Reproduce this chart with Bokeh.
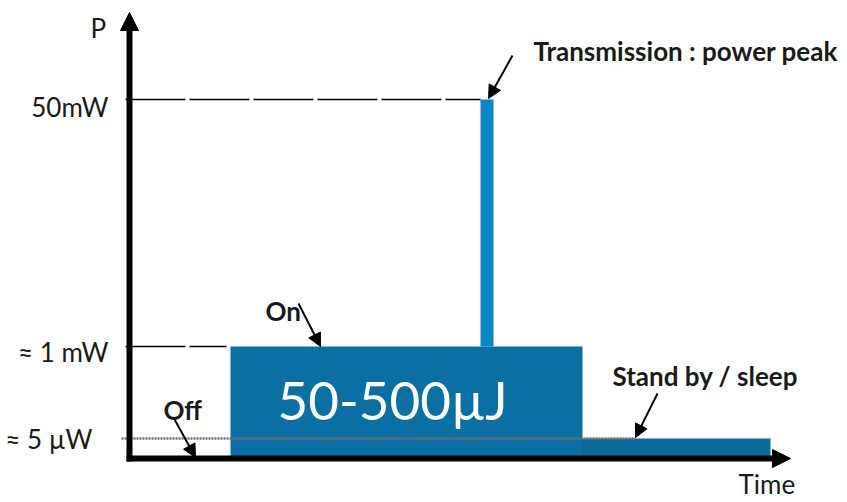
from bokeh.plotting import figure
from bokeh.models import ColumnDataSource, Range1d, Arrow, NormalHead
from bokeh.core.properties import value
from bokeh.embed import file_html
from bokeh.resources import INLINE

# ---- schematic data (time and power in arbitrary schematic units) ----
level_names = ["≈ 5 µW", "≈ 1 mW", "50mW"]
level_values = [20, 112, 359]          # schematic power levels
on_start, on_end = 101, 453            # "On" phase time span
peak_start, peak_end = 351, 364        # transmission peak time span
sleep_end = 641                        # stand-by phase end
time_axis_end = 661
power_axis_end = 446

block_energy = "50-500µJ"

annot_text = ["Transmission : power peak", "On", "Off", "Stand by / sleep"]
annot_tail_x = [383, 169, 44, 528]
annot_tail_y = [403, 155, 41, 65]
annot_tip_x = [359, 191, 66, 506]
annot_tip_y = [360, 112, 1, 21]
annot_lbl_x = [404, 136, 34, 483]
annot_lbl_y = [408, 148, 49, 83]

FONT = "Lato"

p = figure(width=845, height=500, output_backend="svg", toolbar_location=None,
           x_range=Range1d(-129, 716), y_range=Range1d(-42, 458),
           min_border=0, outline_line_color=None)
p.axis.visible = False
p.grid.visible = False

# Stand-by consumption bar
p.quad(left=[on_end - 1], right=[sleep_end], bottom=[0], top=[level_values[0]],
       fill_color="#0b6a9c", line_color=None)
# "On" block
p.quad(left=[on_start], right=[on_end], bottom=[0], top=[level_values[1]],
       fill_color="#0b6fa3", line_color=None)
# transmission peak
p.quad(left=[peak_start], right=[peak_end], bottom=[level_values[1]], top=[level_values[2]],
       fill_color="#0b86c6", line_color=None)

# reference lines
p.line([-4, peak_start], [level_values[2]] * 2, line_color="black", line_width=1.5, line_dash="60 4")
p.line([-4, on_start - 4], [level_values[1]] * 2, line_color="black", line_width=1.5, line_dash="60 4")
p.line([-8, annot_tip_x[3]], [level_values[0]] * 2, line_color="#6f6f6f", line_width=2.5, line_dash="2 1")

# axes as arrows
p.add_layout(Arrow(end=NormalHead(size=18, fill_color="black", line_color="black"),
                   x_start=0, y_start=-3, x_end=0, y_end=power_axis_end,
                   line_width=6, line_color="black"))
p.add_layout(Arrow(end=NormalHead(size=18, fill_color="black", line_color="black"),
                   x_start=-3, y_start=0, x_end=time_axis_end, y_end=0,
                   line_width=6, line_color="black"))

# annotation arrows
for tx, ty, hx, hy in zip(annot_tail_x, annot_tail_y, annot_tip_x, annot_tip_y):
    p.add_layout(Arrow(end=NormalHead(size=13, fill_color="black", line_color="black"),
                       x_start=tx, y_start=ty, x_end=hx, y_end=hy,
                       line_width=2, line_color="black"))

# level labels
src_lv = ColumnDataSource(dict(x=[-37, -21, -21], y=[20, 107, 352], text=level_names))
p.text(x="x", y="y", text="text", source=src_lv, text_align="right",
       text_baseline="middle", text_font=value(FONT), text_font_size="26px",
       text_color="#1a1a1a")

# axis names
src_ax = ColumnDataSource(dict(x=[-39, 609], y=[431, -25], text=["P", "Time"]))
p.text(x="x", y="y", text="text", source=src_ax, text_align="left",
       text_baseline="middle", text_font=value(FONT), text_font_size="26px",
       text_color="#1a1a1a")

# annotation labels
src_an = ColumnDataSource(dict(x=annot_lbl_x, y=annot_lbl_y, text=annot_text))
p.text(x="x", y="y", text="text", source=src_an, text_align="left",
       text_baseline="middle", text_font=value(FONT), text_font_size="26px",
       text_font_style="bold", text_color="#1a1a1a")

# energy label inside block
p.text(x=[on_start + 47], y=[59], text=[block_energy], text_align="left",
       text_baseline="middle", text_font=value(FONT), text_font_size="53px",
       text_color="white")

open("out.html", "w").write(file_html(p, INLINE))
